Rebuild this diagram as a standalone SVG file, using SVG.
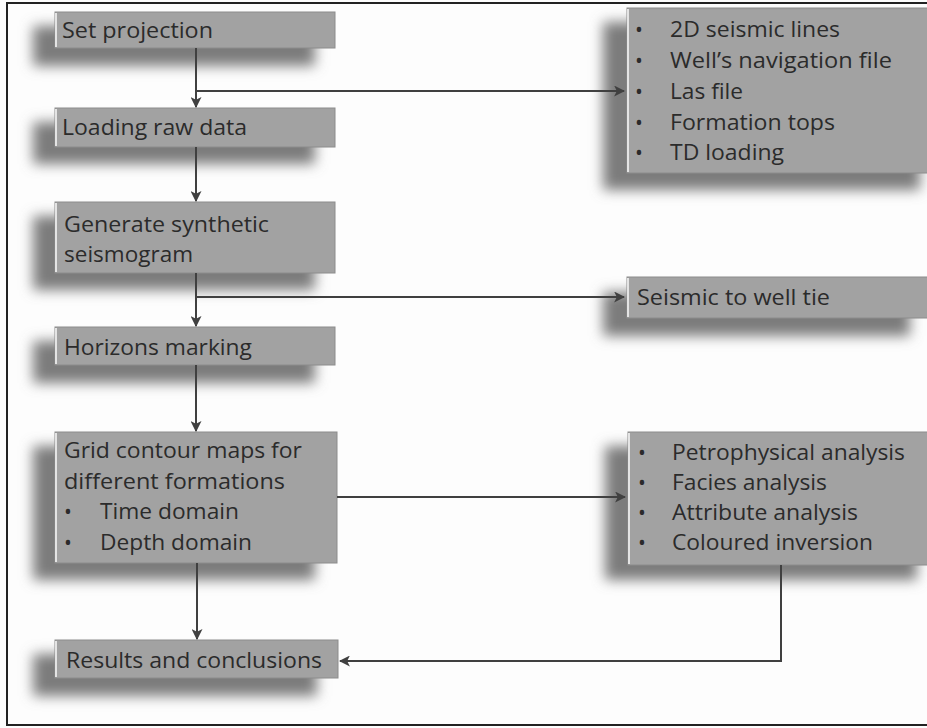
<svg xmlns="http://www.w3.org/2000/svg" width="927" height="728" viewBox="0 0 927 728">
<style>
.bg{fill:#fdfdfd}
.frame{fill:none;stroke:#222;stroke-width:2}
.shadow{fill:#7c7c7c;filter:url(#blur)}
.box{fill:#a2a2a2;stroke:#8c8c8c;stroke-width:1}
.edge{stroke:#e4e4e4;stroke-width:2}
.t{font-family:"Open Sans","Liberation Sans",sans-serif;font-size:21px;fill:#2b2b2b}
.c{fill:none;stroke:#404040;stroke-width:2}
</style>
<defs>
<filter id="blur" x="-20%" y="-60%" width="140%" height="220%"><feGaussianBlur stdDeviation="6.5"/></filter>
<marker id="ah" viewBox="0 0 10 10" refX="9" refY="5" markerWidth="5.5" markerHeight="5.5" orient="auto" markerUnits="strokeWidth">
<path d="M0,0 L10,5 L0,10 L2.5,5 Z" fill="#404040"/>
</marker>
</defs>
<rect class="bg" x="0" y="0" width="927" height="728"/>
<rect class="frame" x="7" y="3" width="940" height="722"/>

<g id="n1">
<rect class="shadow" x="33" y="26" width="282" height="40"/>
<rect class="box" x="55" y="12" width="280" height="36"/>
<line class="edge" x1="56" y1="13" x2="56" y2="47"/>
<text class="t" x="62" y="38" textLength="151" lengthAdjust="spacingAndGlyphs">Set projection</text>
</g>
<g id="n2">
<rect class="shadow" x="33" y="122" width="282" height="42"/>
<rect class="box" x="55" y="108" width="280" height="39"/>
<line class="edge" x1="56" y1="109" x2="56" y2="146"/>
<text class="t" x="62" y="135" textLength="185" lengthAdjust="spacingAndGlyphs">Loading raw data</text>
</g>
<g id="n3">
<rect class="shadow" x="33" y="216" width="282" height="74"/>
<rect class="box" x="55" y="202" width="280" height="71"/>
<line class="edge" x1="56" y1="203" x2="56" y2="272"/>
<text class="t" x="64" y="232" textLength="205" lengthAdjust="spacingAndGlyphs">Generate synthetic</text>
<text class="t" x="64" y="262" textLength="129" lengthAdjust="spacingAndGlyphs">seismogram</text>
</g>
<g id="n4">
<rect class="shadow" x="33" y="341" width="282" height="42"/>
<rect class="box" x="55" y="327" width="280" height="38"/>
<line class="edge" x1="56" y1="328" x2="56" y2="364"/>
<text class="t" x="64" y="355" textLength="188" lengthAdjust="spacingAndGlyphs">Horizons marking</text>
</g>
<g id="n5">
<rect class="shadow" x="33" y="446" width="282" height="134"/>
<rect class="box" x="55" y="432" width="282" height="131"/>
<line class="edge" x1="56" y1="433" x2="56" y2="562"/>
<text class="t" x="64" y="458" textLength="238" lengthAdjust="spacingAndGlyphs">Grid contour maps for</text>
<text class="t" x="64" y="489" textLength="221" lengthAdjust="spacingAndGlyphs">different formations</text>
<text class="t" x="64" y="519">•</text>
<text class="t" x="100" y="519" textLength="139" lengthAdjust="spacingAndGlyphs">Time domain</text>
<text class="t" x="64" y="550">•</text>
<text class="t" x="100" y="550" textLength="152" lengthAdjust="spacingAndGlyphs">Depth domain</text>
</g>
<g id="n6">
<rect class="shadow" x="33" y="654" width="284" height="42"/>
<rect class="box" x="55" y="640" width="283" height="38"/>
<line class="edge" x1="56" y1="641" x2="56" y2="677"/>
<text class="t" x="66" y="668" textLength="256" lengthAdjust="spacingAndGlyphs">Results and conclusions</text>
</g>
<g id="nA">
<rect class="shadow" x="603" y="22" width="317" height="168"/>
<rect class="box" x="627" y="8" width="320" height="165"/>
<line class="edge" x1="628" y1="9" x2="628" y2="172"/>
<text class="t" x="635" y="37">•</text>
<text class="t" x="670" y="37" textLength="170" lengthAdjust="spacingAndGlyphs">2D seismic lines</text>
<text class="t" x="635" y="68">•</text>
<text class="t" x="670" y="68" textLength="222" lengthAdjust="spacingAndGlyphs">Well’s navigation file</text>
<text class="t" x="635" y="99">•</text>
<text class="t" x="670" y="99" textLength="73" lengthAdjust="spacingAndGlyphs">Las file</text>
<text class="t" x="635" y="130">•</text>
<text class="t" x="670" y="130" textLength="165" lengthAdjust="spacingAndGlyphs">Formation tops</text>
<text class="t" x="635" y="160">•</text>
<text class="t" x="670" y="160" textLength="114" lengthAdjust="spacingAndGlyphs">TD loading</text>
</g>
<g id="nB">
<rect class="shadow" x="603" y="292" width="307" height="44"/>
<rect class="box" x="627" y="277" width="320" height="41"/>
<line class="edge" x1="628" y1="278" x2="628" y2="317"/>
<text class="t" x="637" y="305" textLength="193" lengthAdjust="spacingAndGlyphs">Seismic to well tie</text>
</g>
<g id="nC">
<rect class="shadow" x="605" y="446" width="312" height="134"/>
<rect class="box" x="628" y="432" width="320" height="133"/>
<line class="edge" x1="629" y1="433" x2="629" y2="564"/>
<text class="t" x="638" y="460">•</text>
<text class="t" x="672" y="460" textLength="233" lengthAdjust="spacingAndGlyphs">Petrophysical analysis</text>
<text class="t" x="638" y="490">•</text>
<text class="t" x="672" y="490" textLength="155" lengthAdjust="spacingAndGlyphs">Facies analysis</text>
<text class="t" x="638" y="520">•</text>
<text class="t" x="672" y="520" textLength="186" lengthAdjust="spacingAndGlyphs">Attribute analysis</text>
<text class="t" x="638" y="550">•</text>
<text class="t" x="672" y="550" textLength="201" lengthAdjust="spacingAndGlyphs">Coloured inversion</text>
</g>

<g id="connectors">
<line class="c" x1="196" y1="48" x2="196" y2="107" marker-end="url(#ah)"/>
<line class="c" x1="196" y1="91" x2="624" y2="91" marker-end="url(#ah)"/>
<line class="c" x1="196" y1="147" x2="196" y2="201" marker-end="url(#ah)"/>
<line class="c" x1="196" y1="273" x2="196" y2="326" marker-end="url(#ah)"/>
<line class="c" x1="196" y1="297" x2="624" y2="297" marker-end="url(#ah)"/>
<line class="c" x1="196" y1="365" x2="196" y2="431" marker-end="url(#ah)"/>
<line class="c" x1="337" y1="497" x2="625" y2="497" marker-end="url(#ah)"/>
<line class="c" x1="197" y1="563" x2="197" y2="639" marker-end="url(#ah)"/>
<polyline class="c" points="781,565 781,661 340,661" marker-end="url(#ah)"/>
</g>
</svg>
